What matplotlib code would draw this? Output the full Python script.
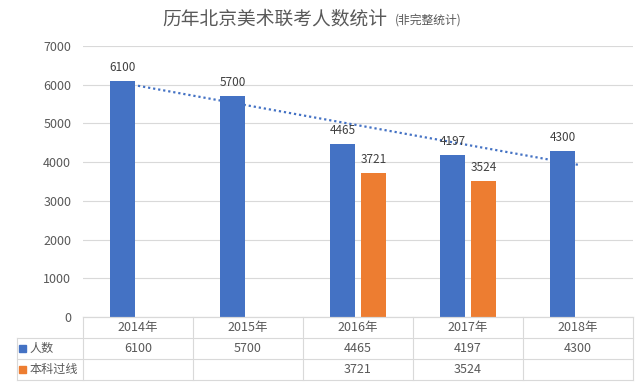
import matplotlib
matplotlib.use("Agg")
import matplotlib.pyplot as plt
import matplotlib.transforms as mtransforms
import numpy as np

plt.rcParams['font.family'] = ['Noto Sans CJK SC', 'DejaVu Sans']

categories = ["2014年", "2015年", "2016年", "2017年", "2018年"]
series_names = ["人数", "本科过线"]
applicants = [6100, 5700, 4465, 4197, 4300]
passed = [None, None, 3721, 3524, None]
yticks = [0, 1000, 2000, 3000, 4000, 5000, 6000, 7000]

BLUE = "#4472C4"
ORANGE = "#ED7D31"
GRID = "#D9D9D9"
TXT = "#595959"
LBL = "#404040"

W, H = 640, 386
fig = plt.figure(figsize=(6.4, 3.86), dpi=100)
ax = fig.add_axes([83 / W, (H - 317) / H, 550 / W, (317 - 46) / H])

x = np.arange(len(categories))
bw = 0.227
off = 0.141

pv = [np.nan if v is None else v for v in passed]
ax.bar(x - off, applicants, width=bw, color=BLUE, zorder=2)
ax.bar(x + off, pv, width=bw, color=ORANGE, zorder=2)

for xi, v in zip(x, applicants):
    ax.annotate(str(v), (xi - off, v), xytext=(0, 5), textcoords="offset points",
                ha="center", va="bottom", fontsize=8.5, color=LBL, zorder=4)
for xi, v in zip(x, passed):
    if v is not None:
        ax.annotate(str(v), (xi + off, v), xytext=(0, 5), textcoords="offset points",
                    ha="center", va="bottom", fontsize=8.5, color=LBL, zorder=4)

# linear trendline of 人数
coef = np.polyfit(x, applicants, 1)
ax.plot(x, np.polyval(coef, x), color=BLUE, lw=1.6, linestyle=(0, (1, 1.3)), zorder=3)

ax.set_xlim(-0.5, len(categories) - 0.5)
ax.set_ylim(0, 7000)
ax.set_yticks(yticks)
ax.set_yticklabels([str(t) for t in yticks], fontsize=9, color=TXT)
ax.tick_params(axis="y", length=0, pad=8.5)
ax.set_xticks([])
for s in ["top", "right", "left"]:
    ax.spines[s].set_visible(False)
ax.spines["bottom"].set_color(GRID)
ax.spines["bottom"].set_linewidth(0.8)
ax.grid(axis="y", color=GRID, lw=0.8, zorder=0)
ax.set_axisbelow(True)

# data table below the axes
def fy(py):
    return (H - py) / H

def fx(px):
    return px / W

rows = [317, 338, 359, 380]
left_col = 17
x0, x1 = 83, 633
cell_w = (x1 - x0) / len(categories)
lkw = dict(color=GRID, lw=0.8, transform=fig.transFigure, clip_on=False)
fig.add_artist(plt.Line2D([fx(x0), fx(x1)], [fy(rows[0]), fy(rows[0])], **lkw))
for r in rows[1:]:
    fig.add_artist(plt.Line2D([fx(left_col), fx(x1)], [fy(r), fy(r)], **lkw))
fig.add_artist(plt.Line2D([fx(left_col), fx(left_col)], [fy(rows[1]), fy(rows[3])], **lkw))
for i in range(len(categories) + 1):
    px = x0 + i * cell_w
    fig.add_artist(plt.Line2D([fx(px), fx(px)], [fy(rows[0]), fy(rows[3])], **lkw))

trans = mtransforms.blended_transform_factory(ax.transData, fig.transFigure)
row_c = [(rows[i] + rows[i + 1]) / 2 for i in range(3)]
for xi, c in zip(x, categories):
    fig.text(xi, fy(row_c[0]), c, transform=trans, ha="center", va="center",
             fontsize=9, color=TXT)
for xi, v in zip(x, applicants):
    fig.text(xi, fy(row_c[1]), str(v), transform=trans, ha="center", va="center",
             fontsize=9, color=TXT)
for xi, v in zip(x, passed):
    if v is not None:
        fig.text(xi, fy(row_c[2]), str(v), transform=trans, ha="center", va="center",
                 fontsize=9, color=TXT)

for name, col, rc in zip(series_names, [BLUE, ORANGE], row_c[1:]):
    fig.add_artist(plt.Rectangle((fx(19), fy(rc + 3.5)), 7 / W, 7 / H, color=col,
                                 transform=fig.transFigure))
    fig.text(fx(30), fy(rc), name, ha="left", va="center", fontsize=8.7, color=TXT)

# title
fig.text(fx(387), fy(19), "历年北京美术联考人数统计", ha="right", va="center",
         fontsize=13.5, color=TXT)
fig.text(fx(395), fy(20), "(非完整统计)", ha="left", va="center",
         fontsize=8.5, color=TXT)

fig.savefig("out.png", dpi=100, facecolor="white")
